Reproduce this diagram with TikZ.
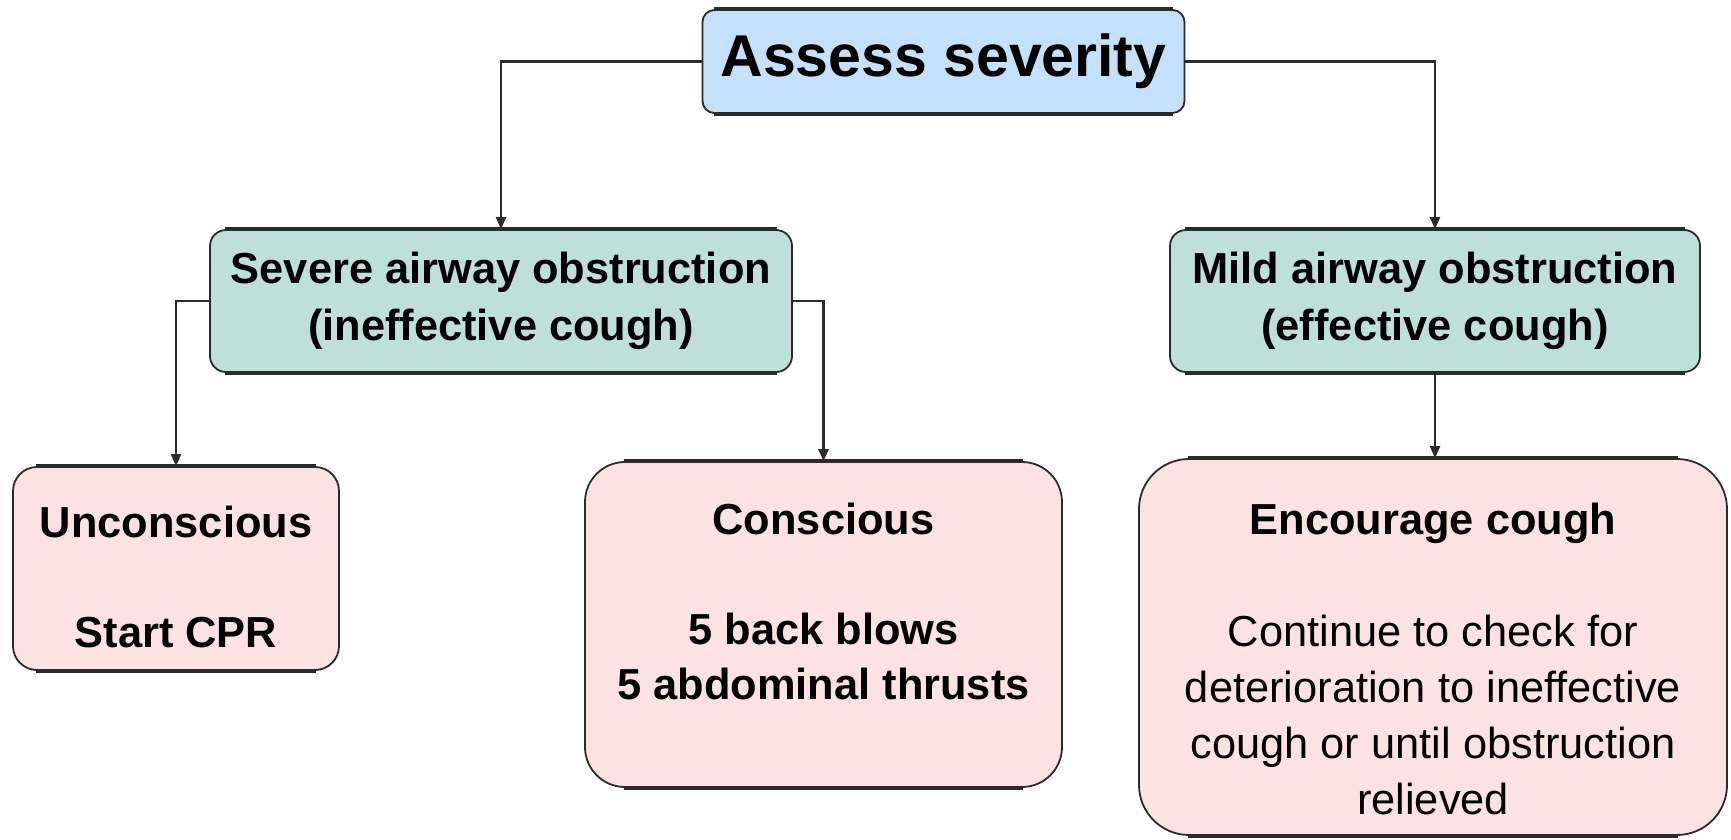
\documentclass[tikz,border=0pt]{standalone}
\usepackage{fontspec}
\setmainfont{Liberation Sans}
\usetikzlibrary{arrows.meta}
\definecolor{bluefill}{HTML}{C5E0FA}
\definecolor{tealfill}{HTML}{BFE0D8}
\definecolor{pinkfill}{HTML}{FCE2E3}
\definecolor{edgecol}{HTML}{2B2B2B}
\tikzset{
  boxbase/.style={draw=edgecol, line width=0.9pt, inner sep=0pt, align=center},
  bluebox/.style={boxbase, fill=bluefill, rounded corners=6pt},
  tealbox/.style={boxbase, fill=tealfill, rounded corners=8pt},
  pinkbox/.style={boxbase, fill=pinkfill},
  txt/.style={align=center, inner sep=0pt, font=\fontsize{21.7}{27.5}\selectfont},
  thickedge/.style={draw=edgecol, line width=2.2pt},
  conn/.style={draw=edgecol, line width=1.2pt, -{Triangle[length=6pt,width=5pt]}}
}
\begin{document}
\begin{tikzpicture}[x=0.5pt,y=-0.5pt]
\useasboundingbox (0,0) rectangle (1731,840);
% boxes
\node[bluebox, minimum width=241pt, minimum height=51.5pt, font=\fontsize{29.5}{36}\selectfont\bfseries] (A) at (943.5,61.5) {Assess severity};
\node[tealbox, minimum width=291pt, minimum height=71pt, font=\fontsize{21.7}{28.5}\selectfont\bfseries] (S) at (501,301) {Severe airway obstruction\\(ineffective cough)};
\node[tealbox, minimum width=265pt, minimum height=71pt, font=\fontsize{21.7}{28.5}\selectfont\bfseries] (M) at (1435,301) {Mild airway obstruction\\(effective cough)};
\node[pinkbox, rounded corners=12pt, minimum width=163pt, minimum height=101.5pt] (U) at (176,568.5) {};
\node[pinkbox, rounded corners=20pt, minimum width=238.5pt, minimum height=162.5pt] (C) at (823.5,624.5) {};
\node[pinkbox, rounded corners=25pt, minimum width=294pt, minimum height=188pt] (E) at (1433,647) {};
% heavier top and bottom edges
\foreach \n/\r in {A/6pt,S/8pt,M/8pt,U/12pt,C/20pt,E/25pt}{
  \draw[thickedge] ([xshift=\r]\n.north west) -- ([xshift=-\r]\n.north east);
  \draw[thickedge] ([xshift=\r]\n.south west) -- ([xshift=-\r]\n.south east);
}
% texts
\node[txt] (Ut) at (176,577) {\bfseries Unconscious\\ \\ \bfseries Start CPR};
\node[txt] (Ct) at (823.5,601) {\bfseries Conscious\\ \\ \bfseries 5 back blows\\ \bfseries 5 abdominal thrusts};
\node[txt, font=\fontsize{21.7}{28}\selectfont] (Et) at (1433,659) {\bfseries Encourage cough\\ \\ Continue to check for\\ deterioration to ineffective\\ cough or until obstruction\\ relieved};
% connectors
\draw[conn] (A.west) -| (S.north);
\draw[conn] (A.east) -| (M.north);
\draw[conn] (S.west) -| (U.north);
\draw[conn] (S.east) -| (C.north);
\draw[conn] (M.south) -- (M.south |- E.north);
\end{tikzpicture}
\end{document}
